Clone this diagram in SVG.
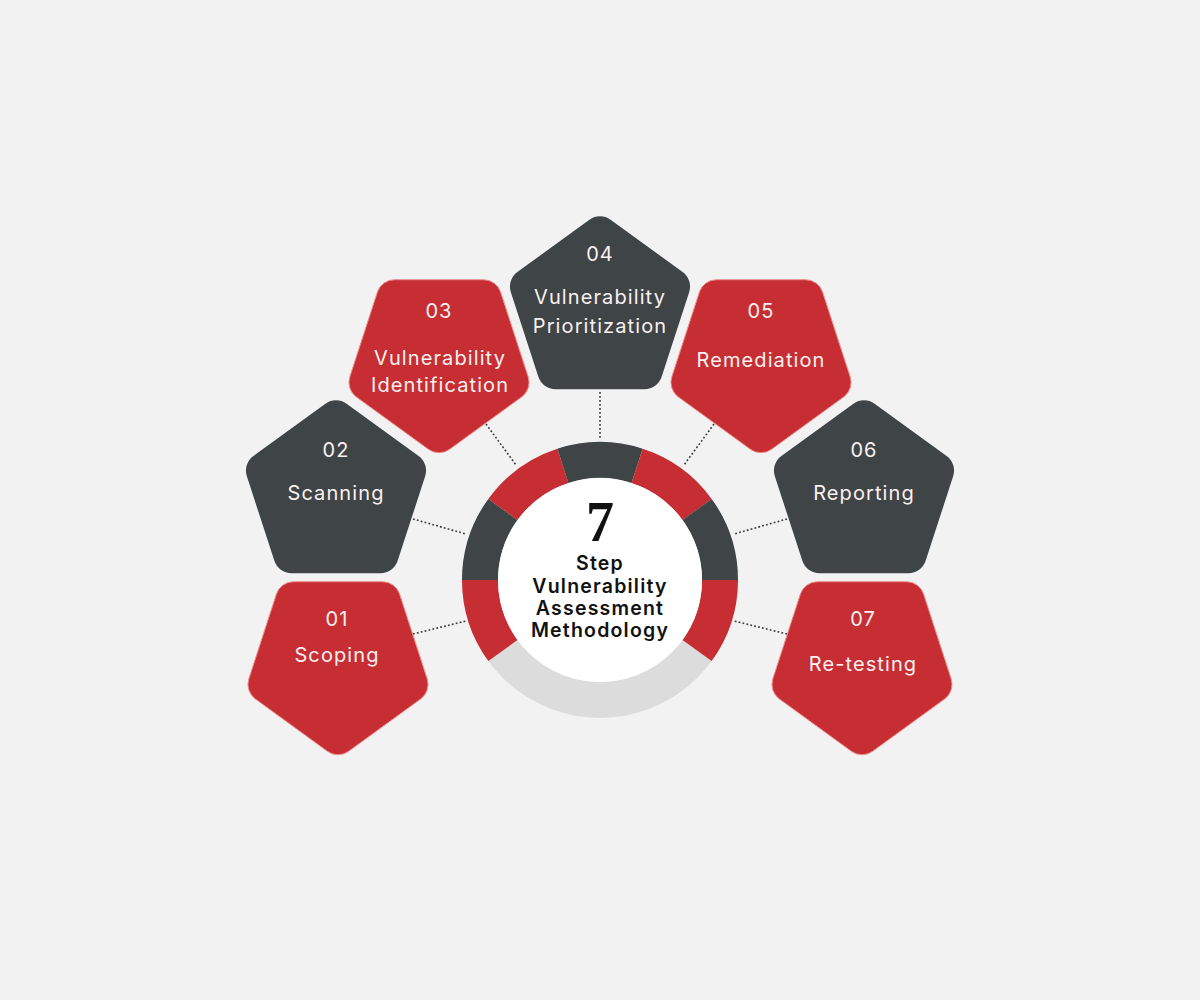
<svg xmlns="http://www.w3.org/2000/svg" xmlns:xlink="http://www.w3.org/1999/xlink" width="1200" height="1000" viewBox="0 0 1200 1000">
<style>
.bg{fill:#f2f2f2}
.red{fill:#c62e33;stroke:#ef8d8d;stroke-width:1}
.dark{fill:#3f4447}
.lbl{font-family:Inter,"Open Sans",sans-serif;font-size:20px;fill:#fbf1f1;text-anchor:middle;font-weight:400;letter-spacing:1.1px}
.ctr{font-family:Inter,"Open Sans",sans-serif;font-size:19.5px;fill:#111111;text-anchor:middle;font-weight:600;letter-spacing:1.2px}
.seven{font-family:"Liberation Serif","DejaVu Serif",serif;font-size:56px;fill:#111111;text-anchor:middle;font-weight:700}
.dot{fill:none;stroke:#3a3a3a;stroke-width:1.6;stroke-dasharray:1.8 2.2}
</style>
<defs>
<path id="pent" d="M -10.58,-90.31 A18,18 0 0 1 10.58,-90.31 L 82.62,-37.97 A18,18 0 0 1 89.16,-17.84 L 61.64,66.84 A18,18 0 0 1 44.52,79.28 L -44.52,79.28 A18,18 0 0 1 -61.64,66.84 L -89.16,-17.84 A18,18 0 0 1 -82.62,-37.97 Z"/>
</defs>
<rect class="bg" x="0" y="0" width="1200" height="1000"/>

<g id="connectors">
<line class="dot" x1="600" y1="392" x2="600" y2="440"/>
<line class="dot" x1="486" y1="424" x2="516" y2="465"/>
<line class="dot" x1="714" y1="424" x2="684" y2="465"/>
<line class="dot" x1="413" y1="519" x2="466" y2="534"/>
<line class="dot" x1="787" y1="519" x2="734" y2="534"/>
<line class="dot" x1="413" y1="634" x2="466" y2="621"/>
<line class="dot" x1="787" y1="634" x2="734" y2="621"/>
</g>

<g id="hub">
<circle cx="600" cy="580" r="120" fill="none" stroke="#dcdcdc" stroke-width="36"/>
<path class="red" style="stroke:none" d="M488.36,661.12 A138,138 0 0 1 462,580 L498,580 A102,102 0 0 0 517.48,639.96 Z"/>
<path class="dark" d="M462,580 A138,138 0 0 1 488.36,498.88 L517.48,520.04 A102,102 0 0 0 498,580 Z"/>
<path class="red" style="stroke:none" d="M488.36,498.88 A138,138 0 0 1 557.36,448.75 L568.48,482.99 A102,102 0 0 0 517.48,520.04 Z"/>
<path class="dark" d="M557.36,448.75 A138,138 0 0 1 642.64,448.75 L631.52,482.99 A102,102 0 0 0 568.48,482.99 Z"/>
<path class="red" style="stroke:none" d="M642.64,448.75 A138,138 0 0 1 711.64,498.88 L682.52,520.04 A102,102 0 0 0 631.52,482.99 Z"/>
<path class="dark" d="M711.64,498.88 A138,138 0 0 1 738,580 L702,580 A102,102 0 0 0 682.52,520.04 Z"/>
<path class="red" style="stroke:none" d="M738,580 A138,138 0 0 1 711.64,661.12 L682.52,639.96 A102,102 0 0 0 702,580 Z"/>
<circle cx="600" cy="580" r="102" fill="#ffffff"/>
<text class="seven" x="600" y="541">7</text>
<text class="ctr" x="600" y="570">Step</text>
<text class="ctr" x="600" y="593">Vulnerability</text>
<text class="ctr" x="600" y="615">Assessment</text>
<text class="ctr" x="600" y="637">Methodology</text>
</g>

<g id="step01">
<use xlink:href="#pent" class="red" transform="translate(338,661) rotate(180)"/>
<text class="lbl" x="337" y="626">01</text>
<text class="lbl" x="337" y="662">Scoping</text>
</g>

<g id="step02">
<use xlink:href="#pent" class="dark" transform="translate(336,494)"/>
<text class="lbl" x="336" y="457">02</text>
<text class="lbl" x="336" y="500">Scanning</text>
</g>

<g id="step03">
<use xlink:href="#pent" class="red" transform="translate(439,359) rotate(180)"/>
<text class="lbl" x="439" y="318">03</text>
<text class="lbl" x="440" y="365">Vulnerability</text>
<text class="lbl" x="440" y="392">Identification</text>
</g>

<g id="step04">
<use xlink:href="#pent" class="dark" transform="translate(600,310)"/>
<text class="lbl" x="600" y="261">04</text>
<text class="lbl" x="600" y="304">Vulnerability</text>
<text class="lbl" x="600" y="333">Prioritization</text>
</g>

<g id="step05">
<use xlink:href="#pent" class="red" transform="translate(761,359) rotate(180)"/>
<text class="lbl" x="761" y="318">05</text>
<text class="lbl" x="761" y="367">Remediation</text>
</g>

<g id="step06">
<use xlink:href="#pent" class="dark" transform="translate(864,494)"/>
<text class="lbl" x="864" y="457">06</text>
<text class="lbl" x="864" y="500">Reporting</text>
</g>

<g id="step07">
<use xlink:href="#pent" class="red" transform="translate(862,661) rotate(180)"/>
<text class="lbl" x="863" y="626">07</text>
<text class="lbl" x="863" y="671">Re-testing</text>
</g>
</svg>
